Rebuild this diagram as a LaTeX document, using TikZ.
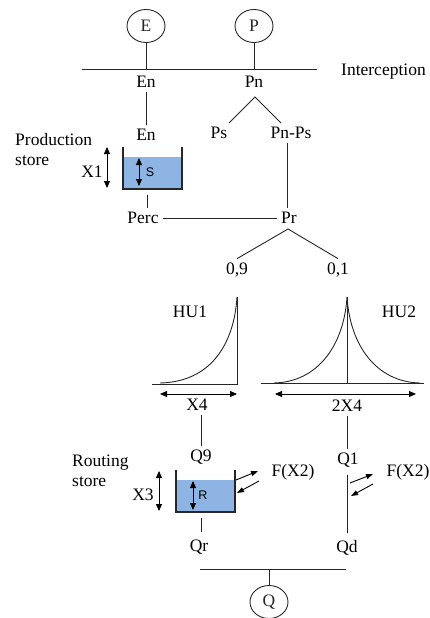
\documentclass[tikz,border=0pt]{standalone}
\usepackage{fontspec}
\setmainfont{Liberation Serif}
\newfontfamily\storefont{Liberation Sans}
\usepackage{tikz}
\usetikzlibrary{arrows.meta,shapes.geometric,calc}
\definecolor{water}{RGB}{142,180,227}
\tikzset{
    line color/.style={black!85},
    wire/.style={line color,line width=0.9pt},
    wall/.style={line color,line width=1.4pt},
    flux/.style={ellipse,draw,line color,line width=0.9pt,minimum width=38pt,minimum height=33pt,inner sep=0pt},
    lbl/.style={inner sep=4pt},
    level/.style={<->,>={Triangle[length=7pt,width=6pt]},line width=0.9pt},
    exch/.style={->,>={Triangle[length=7pt,width=5pt]},line width=0.9pt},
    store label/.style={font=\storefont\fontsize{12.5}{14}\selectfont,inner sep=1pt},
}
\tikzstyle{every node}=[font=\fontsize{17.5}{20}\selectfont]

\begin{document}
\begin{tikzpicture}[x=1pt,y=-1pt]
        \useasboundingbox (0,0) rectangle (430,618);

        \node[flux] (E) at (146,26) {E};
        \node[flux] (P) at (254,26) {P};
        \coordinate (IL) at (82,69);
        \coordinate (IR) at (317,69);
        \draw[wire] (IL) -- (IR);
        \draw[wire] (E) -- (E |- IL);
        \draw[wire] (P) -- (P |- IL);
        \node[lbl,anchor=base west] (Icpt) at (337,75) {Interception};

        \node[lbl] (En1) at (146,82) {En};
        \node[lbl] (Pn) at (254,82) {Pn};
        \node[lbl] (En2) at (146,135) {En};
        \node[lbl] (Ps) at (219,133) {Ps};
        \node[lbl] (PnPs) at (291,133) {Pn-Ps};
        \coordinate (Pn split) at (255,97);
        \draw[wire] (En1) -- (En2);
        \draw[wire] (Ps) -- (Pn split) -- (PnPs);

        % production store
        \coordinate (S tl) at (123,147);
        \coordinate (S br) at (182,189);
        \fill[water] (123,157) rectangle (S br);
        \draw[wall] (S tl) -- (S tl |- S br) -- (S br) -- (S br |- S tl);
        \draw[level] (139,158) -- (139,186);
        \node[store label] (S) at (150,172) {S};
        \draw[level] (107,147) -- (107,188);
        \node[lbl] (X1) at (92,172) {X1};
        \node[lbl,align=left,anchor=west] (Prod) at (11,150) {\rmfamily Production\\[0pt]\rmfamily store};

        \node[lbl] (Perc) at (143,218) {Perc};
        \node[lbl] (Pr) at (289,218) {Pr};
        \coordinate (S out) at (147,195);
        \draw[wire] (S out) -- (S out |- Perc.north);
        \draw[wire] (Perc) -- (Pr);
        \draw[wire] (PnPs.south -| 287,0) -- (Pr.north -| 287,0);

        \node[lbl] (v09) at (237,270) {0,9};
        \node[lbl] (v01) at (338,270) {0,1};
        \coordinate (Pr split) at (288,229);
        \draw[wire] (v09.north) -- (Pr split) -- (v01.north);

        % unit hydrographs
        \node[lbl] (HU1) at (190,312) {HU1};
        \node[lbl] (HU2) at (399,312) {HU2};
        \coordinate (H1 top) at (237,297);
        \coordinate (H1 foot) at (237,384);
        \draw[wire] (152,384) -- (H1 foot) -- (H1 top);
        \draw[wire] (160,383) .. controls (210,382) and (234,345) .. (H1 top);
        \coordinate (H2 top) at (347,297);
        \coordinate (H2 foot) at (347,383);
        \draw[wire] (261,383) -- (424,383);
        \draw[wire] (H2 foot) -- (H2 top);
        \draw[wire] (274,383) .. controls (318,382) and (344,345) .. (H2 top)
            .. controls (350,345) and (376,382) .. (420,383);
        \draw[level] (160,394) -- (237,394);
        \draw[level] (275,394) -- (416,394);
        \node[lbl] (X4) at (197,405) {X4};
        \node[lbl] (X42) at (347,406) {2X4};

        \node[lbl] (Q9) at (201,457) {Q9};
        \node[lbl] (Q1) at (348,460) {Q1};
        \draw[wire] (Q9.north |- X4.south) -- (Q9.north);
        \draw[wire] (X42.south -| 347,0) -- (Q1.north -| 347,0);

        % routing store
        \coordinate (R tl) at (176,470);
        \coordinate (R br) at (235,512);
        \fill[water] (176,480) rectangle (R br);
        \draw[wall] (R tl) -- (R tl |- R br) -- (R br) -- (R br |- R tl);
        \draw[level] (193,481) -- (193,510);
        \node[store label] (R) at (203,495) {R};
        \draw[level] (159,471) -- (159,511);
        \node[lbl] (X3) at (143,495) {X3};
        \node[lbl,align=left,anchor=west] (Rout) at (68,471) {\rmfamily Routing\\[0pt]\rmfamily store};
        \draw[exch] (236,480) -- (258,471);
        \draw[exch] (259,481) -- (237,493);
        \node[lbl] (F1) at (293,472) {F(X2)};
        \draw[exch] (350,483) -- (373,474);
        \draw[exch] (373,484) -- (351,496);
        \node[lbl] (F2) at (408,472) {F(X2)};

        \node[lbl] (Qr) at (199,547) {Qr};
        \node[lbl] (Qd) at (347,548) {Qd};
        \draw[wire] (201,518) -- (201,532);
        \draw[wire] (347,475) -- (347,533);

        \coordinate (QL) at (200,569);
        \coordinate (QR) at (346,569);
        \node[flux] (Q) at (269,602) {Q};
        \draw[wire] (QL) -- (QR);
        \draw[wire] (Q) -- (Q |- QL);
    \end{tikzpicture}
\end{document}
